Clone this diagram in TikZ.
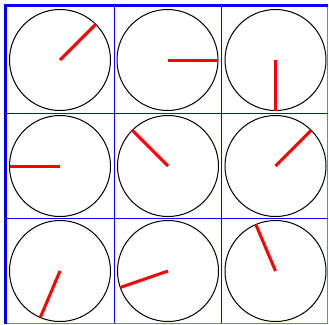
\documentclass[tikz,border=0pt]{standalone}
\begin{document}
\begin{tikzpicture}[x=1pt,y=-1pt,
  dial/.style={draw=black,line width=1pt,circle,minimum size=101pt,inner sep=0pt,outer sep=0pt},
  hand/.style={draw=red,line width=3pt},
  gridthin/.style={draw=blue,line width=1pt},
  gridthick/.style={draw=blue,line width=3pt}]
\useasboundingbox (0,0) rectangle (329,324);
\fill[white] (0,0) rectangle (329,324);
% grid
\draw[gridthin] (114,5.5) -- (114,323.5);
\draw[gridthin] (221.5,5.5) -- (221.5,323.5);
\draw[draw=blue!55,line width=1pt] (327.5,5.5) -- (327.5,323.5);
\draw[gridthin] (5.5,113) -- (327.5,113);
\draw[gridthin] (5.5,218) -- (327.5,218);
\draw[draw=blue!55,line width=1pt] (5.5,323.5) -- (327.5,323.5);
\draw[gridthick] (5.5,4) -- (5.5,324);
\draw[gridthick] (4,5.5) -- (328,5.5);
% dials
\node[dial] (c1) at (60,60) {};
\node[dial] (c2) at (167.5,60) {};
\node[dial] (c3) at (275.5,60) {};
\node[dial] (c4) at (60,166) {};
\node[dial] (c5) at (168,166) {};
\node[dial] (c6) at (275.5,166) {};
\node[dial] (c7) at (60,271) {};
\node[dial] (c8) at (168,271) {};
\node[dial] (c9) at (275.5,271) {};
% hands
\draw[hand] (c1.center) -- (c1.45);
\draw[hand] (c2.center) -- (c2.0);
\draw[hand] (c3.center) -- (c3.-90);
\draw[hand] (c4.center) -- (c4.180);
\draw[hand] (c5.center) -- (c5.135);
\draw[hand] (c6.center) -- (c6.45);
\draw[hand] (c7.center) -- (c7.247);
\draw[hand] (c8.center) -- (c8.199);
\draw[hand] (c9.center) -- (c9.113);
\end{tikzpicture}
\end{document}
